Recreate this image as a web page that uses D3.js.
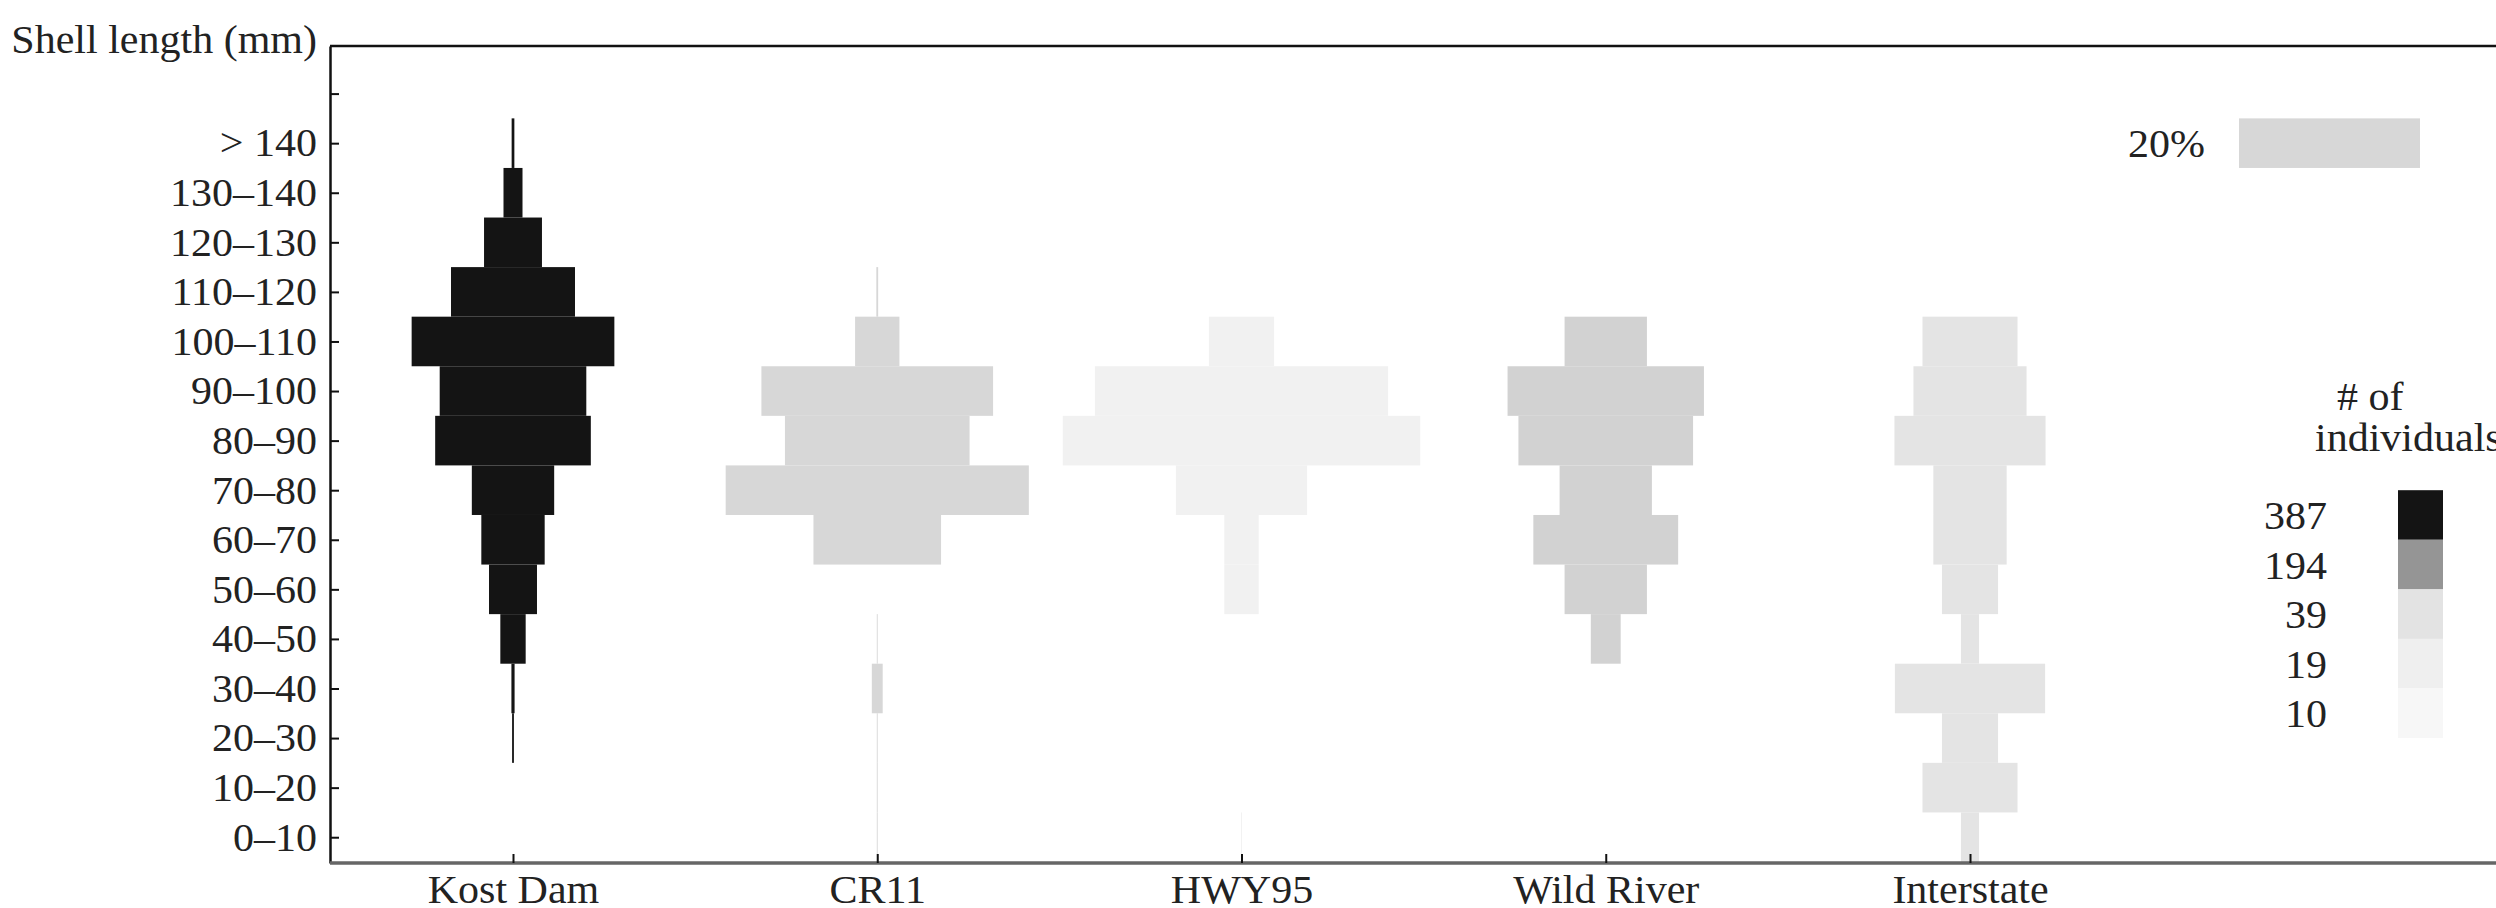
<!DOCTYPE html>
<html>
<head>
<meta charset="utf-8">
<script src="https://cdn.jsdelivr.net/npm/d3@7"></script>
<style>
  body { margin: 0; background: #fff; }
  text { font-family: "Liberation Serif", "DejaVu Serif", serif; fill: #222; }
</style>
</head>
<body>
<div id="chart"></div>
<script>
// size classes, bottom (0-10) to top (> 140)
const bins = ["0\u201310", "10\u201320", "20\u201330", "30\u201340", "40\u201350", "50\u201360", "60\u201370",
  "70\u201380", "80\u201390", "90\u2013100", "100\u2013110", "110\u2013120", "120\u2013130", "130\u2013140", "> 140"];

const sites = ["Kost Dam", "CR11", "HWY95", "Wild River", "Interstate"];
const siteCounts = [387, 62, 17, 72, 37];

// % of individuals per size class, same order as bins
const kostDam    = [0, 0, 0.2, 0.35, 2.8, 5.3, 7.0, 9.1, 17.2, 16.2, 22.4, 13.7, 6.4, 2.1, 0.3];
const cr11       = [0.1, 0.1, 0.1, 1.2, 0.1, 0, 14.1, 33.5, 20.4, 25.6, 4.9, 0.2, 0, 0, 0];
const hwy95      = [0.1, 0, 0, 0, 0, 3.8, 3.8, 14.5, 39.5, 32.4, 7.2, 0, 0, 0, 0];
const wildRiver  = [0, 0, 0, 0, 3.3, 9.1, 16.0, 10.2, 19.3, 21.7, 9.1, 0, 0, 0, 0];
const interstate = [2.0, 10.5, 6.2, 16.6, 2.0, 6.2, 8.1, 8.1, 16.7, 12.5, 10.5, 0, 0, 0, 0];
const percents = [kostDam, cr11, hwy95, wildRiver, interstate];

const legendCounts = [387, 194, 39, 19, 10];
const legendColors = ["#141414", "#959595", "#e3e3e3", "#efefef", "#f7f7f7"];
const scalePercent = 20;

const width = 2496, height = 908;

const svg = d3.select("#chart").append("svg")
  .attr("width", width)
  .attr("height", height)
  .style("background", "#fff");

const plotLeft = 330, plotTop = 46, plotBottom = 863;

const y = d3.scaleLinear().domain([-0.52, 15.96]).range([plotBottom, plotTop]);
const x = d3.scalePoint().domain(sites).range([513, 1970]);
const w = d3.scaleLinear().domain([0, scalePercent]).range([0, 181]);
const color = d3.scaleLinear()
  .domain(legendCounts.slice().reverse())
  .range(legendColors.slice().reverse());

// bars (kite diagram)
const rows = [];
sites.forEach((s, si) => {
  percents[si].forEach((p, bi) => {
    if (p > 0) rows.push({ site: s, bin: bi, pct: p, n: siteCounts[si] });
  });
});

svg.append("g")
  .selectAll("rect")
  .data(rows)
  .join("rect")
  .attr("x", d => x(d.site) - w(d.pct) / 2)
  .attr("y", d => y(d.bin + 0.5))
  .attr("width", d => w(d.pct))
  .attr("height", d => y(d.bin - 0.5) - y(d.bin + 0.5))
  .attr("fill", d => color(d.n));

// y axis
const yAxis = svg.append("g")
  .attr("transform", `translate(${plotLeft},0)`)
  .call(d3.axisLeft(y)
    .tickValues(d3.range(16))
    .tickFormat(i => bins[i] || "")
    .tickSizeInner(-9)
    .tickSizeOuter(0)
    .tickPadding(13));
yAxis.select(".domain").attr("stroke", "#111").attr("stroke-width", 2.5);
yAxis.selectAll(".tick line").attr("stroke", "#111").attr("stroke-width", 2);
yAxis.selectAll(".tick text").style("font-size", "40px").attr("fill", "#222");

// frame: top line and bottom axis line
svg.append("line")
  .attr("x1", plotLeft).attr("x2", width)
  .attr("y1", plotTop).attr("y2", plotTop)
  .attr("stroke", "#111").attr("stroke-width", 2.5);

svg.append("line")
  .attr("x1", plotLeft).attr("x2", width)
  .attr("y1", plotBottom).attr("y2", plotBottom)
  .attr("stroke", "#666").attr("stroke-width", 3.5);

const xAxis = svg.append("g")
  .attr("transform", `translate(0,${plotBottom})`)
  .call(d3.axisBottom(x).tickSizeInner(-9).tickSizeOuter(0).tickPadding(12));
xAxis.select(".domain").remove();
xAxis.selectAll(".tick line").attr("stroke", "#111").attr("stroke-width", 2);
xAxis.selectAll(".tick text").style("font-size", "40px").attr("fill", "#222");

// axis title
svg.append("text")
  .attr("x", 317)
  .attr("y", 53)
  .attr("text-anchor", "end")
  .style("font-size", "40px")
  .text("Shell length (mm)");

// percent scale legend
svg.append("rect")
  .attr("x", 2239)
  .attr("y", y(14.5))
  .attr("width", w(scalePercent))
  .attr("height", y(13.5) - y(14.5))
  .attr("fill", "#d7d7d7");

svg.append("text")
  .attr("x", 2205)
  .attr("y", y(14))
  .attr("dy", "0.35em")
  .attr("text-anchor", "end")
  .style("font-size", "40px")
  .text(scalePercent + "%");

// count legend
svg.append("text")
  .attr("x", 2337).attr("y", 410)
  .style("font-size", "40px")
  .text("# of");
svg.append("text")
  .attr("x", 2315).attr("y", 451)
  .style("font-size", "40px")
  .text("individuals");

const leg = svg.append("g")
  .selectAll("g")
  .data(legendCounts)
  .join("g");

leg.append("rect")
  .attr("x", 2398)
  .attr("y", (d, i) => y(7 - i))
  .attr("width", 45)
  .attr("height", (d, i) => y(6 - i) - y(7 - i))
  .attr("fill", (d, i) => legendColors[i]);

leg.append("text")
  .attr("x", 2327)
  .attr("y", (d, i) => y(6.5 - i))
  .attr("dy", "0.35em")
  .attr("text-anchor", "end")
  .style("font-size", "40px")
  .text(d => d);

// the original type is set a little wider than Liberation Serif
svg.selectAll("text").each(function () {
  const len = this.getComputedTextLength();
  if (len > 0) {
    d3.select(this)
      .attr("textLength", len * 1.05)
      .attr("lengthAdjust", "spacingAndGlyphs");
  }
});
</script>
</body>
</html>
